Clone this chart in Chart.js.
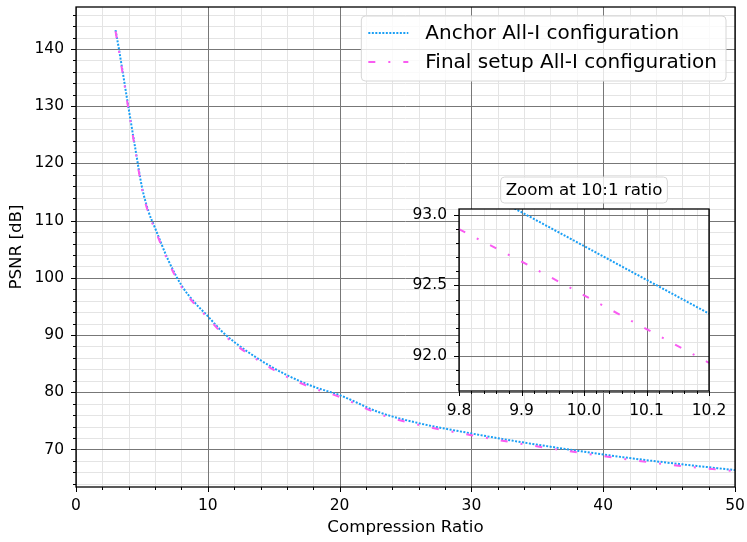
<!DOCTYPE html>
<html lang="en">
<head>
<meta charset="UTF-8">
<title>PSNR vs Compression Ratio</title>
<script src="https://cdn.jsdelivr.net/npm/chart.js"></script>
<style>
  body { margin: 0; background: #fff; }
  .wrap { position: relative; width: 747px; height: 542px; }
  #mainChart { position: absolute; left: 0; top: 0; }
  #zoomChart { position: absolute; left: 400px; top: 170px; }
</style>
</head>
<body>
<div class="wrap">
  <canvas id="mainChart" width="747" height="542"></canvas>
  <canvas id="zoomChart" width="330" height="260"></canvas>
</div>
<script>
// compression ratio (x) and PSNR in dB for both configurations
const ratios     = [3.0, 3.25, 3.5, 4.0, 4.5, 5.0, 5.5, 6.0, 7.0, 8.0, 9.0, 10.0, 11.0, 12.0, 14.0, 16.0, 18.0, 20.0, 23.0, 26.0, 30.0, 34.0, 38.0, 42.0, 46.0, 50.0];
const anchorPsnr = [143.3, 140.1, 136.6, 129.5, 122.6, 115.9, 111.6, 108.7, 103.1, 98.7, 95.7, 93.3, 90.8, 88.8, 85.6, 83.0, 81.0, 79.5, 76.5, 74.6, 72.8, 71.2, 69.8, 68.5, 67.4, 66.4];
const finalPsnr  = [143.1, 139.8, 136.3, 129.2, 122.3, 115.6, 111.3, 108.4, 102.8, 98.4, 95.4, 93.0, 90.5, 88.5, 85.3, 82.7, 80.7, 79.2, 76.2, 74.3, 72.5, 70.9, 69.5, 68.2, 67.1, 66.2];

// the zoomed window around 10:1
const zoomRatios = [9.8, 9.9, 10.0, 10.1, 10.2];
const zoomAnchor = [93.26, 93.02, 92.78, 92.54, 92.30];
const zoomFinal  = [92.90, 92.67, 92.43, 92.19, 91.95];

const seriesLabels = ['Anchor All-I configuration', 'Final setup All-I configuration'];
const zoomTitle = 'Zoom at 10:1 ratio';

const blue = '#1a9ff5';
const pink = '#f95cf1';
const blueDash = [2, 1.5];
const pinkDash = [7, 13, 2, 13];

const tickFont = 15.5;
const titleFont = 16.7;
const legendFont = 20;

Chart.defaults.font.family = '"DejaVu Sans", sans-serif';
Chart.defaults.color = '#000';

function isMajor(v, step) {
  return Math.abs(v / step - Math.round(v / step)) < 1e-6;
}

// one tick per minor step, major ones get labels
function stepTicks(scale, step) {
  const out = [];
  for (let k = Math.ceil(scale.min / step - 1e-9); k * step <= scale.max + 1e-9; k++) {
    out.push({ value: +(k * step).toFixed(6) });
  }
  scale.ticks = out;
}

function makeAxis(o) {
  return {
    type: 'linear',
    min: o.min,
    max: o.max,
    afterBuildTicks: s => stepTicks(s, o.minor),
    afterFit: s => {
      o.fit(s);
      // no extra room for the end labels, the layout padding handles it
      s.paddingTop = s.paddingBottom = s.paddingLeft = s.paddingRight = 0;
    },
    ticks: {
      autoSkip: false,
      maxRotation: 0,
      padding: o.pad,
      font: { size: tickFont },
      callback: v => isMajor(v, o.major) ? o.fmt(v) : ''
    },
    grid: { display: false, drawTicks: false },
    border: { display: false },
    title: o.title
  };
}

// minor grid first, major on top, like matplotlib
const gridLines = {
  id: 'gridLines',
  beforeDatasetsDraw(chart, args, opts) {
    const { ctx, chartArea: a, scales } = chart;
    ctx.save();
    ctx.lineWidth = 1;
    [false, true].forEach(major => {
      ctx.strokeStyle = major ? '#777777' : '#e4e4e4';
      ['x', 'y'].forEach(id => {
        const s = scales[id];
        s.ticks.forEach(t => {
          if (isMajor(t.value, opts[id]) !== major) return;
          const p = Math.round(s.getPixelForValue(t.value)) + 0.5;
          ctx.beginPath();
          if (id === 'x') { ctx.moveTo(p, a.top); ctx.lineTo(p, a.bottom); }
          else { ctx.moveTo(a.left, p); ctx.lineTo(a.right, p); }
          ctx.stroke();
        });
      });
    });
    ctx.restore();
  }
};

// outward tick marks and the box around the plot
const frameAndTicks = {
  id: 'frameAndTicks',
  afterDraw(chart, args, opts) {
    const { ctx, chartArea: a, scales } = chart;
    ctx.save();
    ctx.strokeStyle = '#000';
    ctx.lineWidth = 1;
    ['x', 'y'].forEach(id => {
      const s = scales[id];
      s.ticks.forEach(t => {
        const len = isMajor(t.value, opts[id]) ? 5 : 3;
        const p = Math.round(s.getPixelForValue(t.value)) + 0.5;
        ctx.beginPath();
        if (id === 'x') { ctx.moveTo(p, a.bottom); ctx.lineTo(p, a.bottom + len); }
        else { ctx.moveTo(a.left, p); ctx.lineTo(a.left - len, p); }
        ctx.stroke();
      });
    });
    ctx.lineWidth = 1.3;
    ctx.strokeRect(a.left, a.top, a.right - a.left, a.bottom - a.top);
    ctx.restore();
  }
};

function roundBox(ctx, x, y, w, h, r) {
  ctx.beginPath();
  ctx.roundRect(x, y, w, h, r);
  ctx.fillStyle = 'rgba(255,255,255,0.8)';
  ctx.fill();
  ctx.strokeStyle = '#d6d6d6';
  ctx.lineWidth = 1;
  ctx.stroke();
}

const lineLegend = {
  id: 'lineLegend',
  afterDraw(chart) {
    const { ctx, chartArea: a } = chart;
    ctx.save();
    ctx.font = legendFont + 'px "DejaVu Sans"';
    const textW = Math.max(...seriesLabels.map(t => ctx.measureText(t).width));
    const w = 7 + 40 + 17 + textW + 9;
    const right = a.right - 9;
    const left = right - w;
    const top = a.top + 9;
    roundBox(ctx, left, top, w, 65, 4);
    const styles = [[blue, blueDash], [pink, pinkDash]];
    seriesLabels.forEach((label, i) => {
      const y = top + 17 + i * 29;
      ctx.beginPath();
      ctx.setLineDash(styles[i][1]);
      ctx.strokeStyle = styles[i][0];
      ctx.lineWidth = 2;
      ctx.moveTo(left + 7, y);
      ctx.lineTo(left + 47, y);
      ctx.stroke();
      ctx.setLineDash([]);
      ctx.fillStyle = '#000';
      ctx.textBaseline = 'middle';
      ctx.fillText(label, left + 64, y + 1);
    });
    ctx.restore();
  }
};

new Chart(document.getElementById('mainChart'), {
  type: 'line',
  data: {
    datasets: [{
      label: seriesLabels[0],
      data: ratios.map((r, i) => ({ x: r, y: anchorPsnr[i] })),
      borderColor: blue,
      borderDash: blueDash,
      order: 1
    }, {
      label: seriesLabels[1],
      data: ratios.map((r, i) => ({ x: r, y: finalPsnr[i] })),
      borderColor: pink,
      borderDash: pinkDash,
      order: 0
    }]
  },
  options: {
    responsive: false,
    devicePixelRatio: 1,
    animation: false,
    layout: { padding: { top: 7, right: 12, left: 0, bottom: 0 } },
    elements: {
      point: { radius: 0 },
      line: { borderWidth: 2, tension: 0.4, cubicInterpolationMode: 'monotone' }
    },
    scales: {
      x: makeAxis({
        min: 0, max: 50, major: 10, minor: 2, pad: 10, fmt: v => String(v),
        fit: s => { s.height = 55; },
        title: { display: true, text: 'Compression Ratio', font: { size: titleFont }, padding: { top: 0, bottom: 4 } }
      }),
      y: makeAxis({
        min: 63.44, max: 147.34, major: 10, minor: 2, pad: 12, fmt: v => String(v),
        fit: s => { s.width = 76; },
        title: { display: true, text: 'PSNR [dB]', font: { size: titleFont }, padding: { top: 7, bottom: 0 } }
      })
    },
    plugins: {
      legend: { display: false },
      tooltip: { enabled: false },
      gridLines: { x: 10, y: 10 },
      frameAndTicks: { x: 10, y: 10 }
    }
  },
  plugins: [gridLines, frameAndTicks, lineLegend]
});

// inset: white plot area plus its boxed title
const insetDecor = {
  id: 'insetDecor',
  beforeDraw(chart) {
    const { ctx, chartArea: a } = chart;
    ctx.save();
    ctx.fillStyle = '#fff';
    ctx.fillRect(a.left, a.top, a.right - a.left, a.bottom - a.top);
    ctx.restore();
  },
  afterDraw(chart) {
    const { ctx, chartArea: a } = chart;
    ctx.save();
    ctx.font = titleFont + 'px "DejaVu Sans"';
    const tw = ctx.measureText(zoomTitle).width;
    const cx = (a.left + a.right) / 2;
    const cy = a.top - 19;
    roundBox(ctx, cx - tw / 2 - 5, cy - 13, tw + 10, 26, 4);
    ctx.fillStyle = '#000';
    ctx.textAlign = 'center';
    ctx.textBaseline = 'middle';
    ctx.fillText(zoomTitle, cx, cy + 1);
    ctx.restore();
  }
};

new Chart(document.getElementById('zoomChart'), {
  type: 'line',
  data: {
    datasets: [{
      data: zoomRatios.map((r, i) => ({ x: r, y: zoomAnchor[i] })),
      borderColor: blue,
      borderDash: blueDash,
      order: 1
    }, {
      data: zoomRatios.map((r, i) => ({ x: r, y: zoomFinal[i] })),
      borderColor: pink,
      borderDash: pinkDash,
      order: 0
    }]
  },
  options: {
    responsive: false,
    devicePixelRatio: 1,
    animation: false,
    layout: { padding: { top: 39, right: 21, left: 0, bottom: 0 } },
    elements: {
      point: { radius: 0 },
      line: { borderWidth: 2, tension: 0 }
    },
    scales: {
      x: makeAxis({
        min: 9.8, max: 10.2, major: 0.1, minor: 0.02, pad: 11, fmt: v => v.toFixed(1),
        fit: s => { s.height = 39; },
        title: { display: false }
      }),
      y: makeAxis({
        min: 91.75, max: 93.043, major: 0.5, minor: 0.1, pad: 12, fmt: v => v.toFixed(1),
        fit: s => { s.width = 59; },
        title: { display: false }
      })
    },
    plugins: {
      legend: { display: false },
      tooltip: { enabled: false },
      gridLines: { x: 0.1, y: 0.5 },
      frameAndTicks: { x: 0.1, y: 0.5 }
    }
  },
  plugins: [insetDecor, gridLines, frameAndTicks]
});
</script>
</body>
</html>
